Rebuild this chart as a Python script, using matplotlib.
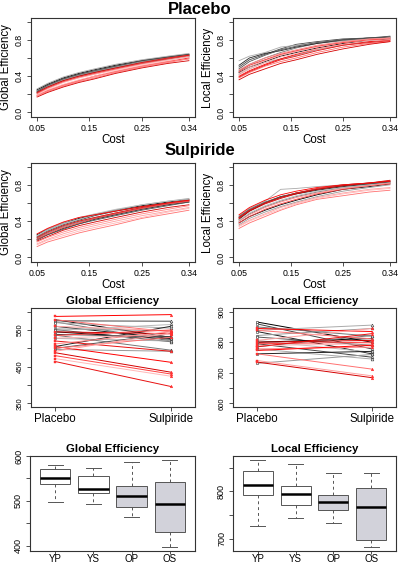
import matplotlib
matplotlib.use("Agg")
import matplotlib.pyplot as plt

plt.rcParams["font.family"] = ["Liberation Sans", "DejaVu Sans"]

W, H = 400, 566

# cost levels shared by the efficiency curves
cost = [0.05, 0.07, 0.10, 0.13, 0.16, 0.20, 0.25, 0.30, 0.34]

# placebo, global efficiency
plac_glob_young = [
    [.25, .31, .38, .43, .47, .52, .57, .61, .64],
    [.24, .30, .37, .42, .46, .51, .56, .60, .63],
    [.23, .29, .36, .41, .45, .50, .55, .59, .62],
    [.26, .32, .39, .44, .48, .53, .58, .62, .65],
    [.22, .28, .35, .40, .44, .49, .54, .59, .62],
    [.24, .29, .36, .41, .46, .50, .56, .60, .63],
    [.23, .30, .37, .42, .46, .51, .57, .61, .64],
    [.21, .27, .34, .39, .43, .48, .54, .58, .61],
]
plac_glob_old = [
    [.19, .24, .30, .35, .40, .45, .51, .56, .60],
    [.18, .23, .29, .34, .38, .44, .50, .55, .59],
    [.20, .26, .33, .38, .42, .47, .53, .58, .62],
    [.17, .22, .28, .33, .37, .43, .49, .54, .57],
    [.21, .27, .34, .39, .43, .48, .54, .59, .63],
    [.19, .25, .31, .36, .40, .46, .52, .57, .61],
    [.22, .28, .35, .40, .44, .49, .55, .60, .63],
    [.18, .24, .30, .35, .39, .45, .51, .56, .59],
]

# placebo, local efficiency
plac_loc_young = [
    [.44, .50, .56, .62, .66, .71, .76, .79, .81],
    [.50, .58, .64, .70, .75, .78, .81, .82, .84],
    [.46, .53, .60, .66, .71, .76, .79, .81, .82],
    [.57, .62, .66, .72, .74, .77, .80, .82, .83],
    [.52, .60, .65, .68, .72, .76, .80, .82, .83],
    [.42, .48, .55, .59, .63, .69, .74, .78, .80],
    [.48, .56, .63, .69, .73, .77, .80, .82, .83],
    [.45, .52, .58, .64, .68, .73, .78, .80, .82],
]
plac_loc_old = [
    [.40, .46, .53, .59, .64, .70, .75, .78, .80],
    [.38, .44, .51, .56, .60, .66, .72, .76, .78],
    [.43, .50, .57, .63, .67, .72, .77, .80, .82],
    [.36, .42, .48, .54, .58, .64, .70, .75, .78],
    [.45, .52, .58, .64, .68, .73, .77, .80, .81],
    [.41, .48, .55, .61, .65, .70, .75, .79, .80],
    [.39, .45, .52, .58, .62, .68, .74, .77, .79],
    [.47, .53, .60, .65, .69, .74, .78, .81, .82],
]

# sulpiride, global efficiency
sulp_glob_young = [
    [.25, .31, .38, .43, .47, .52, .57, .61, .64],
    [.23, .29, .36, .41, .46, .51, .56, .60, .63],
    [.21, .27, .34, .39, .43, .48, .54, .59, .62],
    [.24, .30, .37, .42, .47, .52, .58, .62, .65],
    [.20, .25, .32, .37, .42, .47, .53, .58, .61],
    [.22, .28, .35, .40, .44, .49, .55, .60, .63],
    [.19, .25, .31, .37, .41, .46, .52, .57, .61],
    [.24, .31, .38, .44, .48, .53, .58, .62, .64],
]
sulp_glob_old = [
    [.26, .32, .39, .44, .47, .51, .56, .60, .63],
    [.12, .17, .22, .27, .31, .36, .43, .48, .52],
    [.15, .20, .26, .31, .35, .40, .46, .51, .55],
    [.18, .23, .30, .35, .39, .44, .50, .55, .58],
    [.20, .26, .33, .38, .43, .48, .54, .59, .62],
    [.14, .19, .24, .29, .33, .38, .44, .50, .54],
    [.22, .28, .35, .40, .44, .49, .55, .60, .63],
    [.17, .22, .28, .33, .37, .42, .48, .53, .57],
]

# sulpiride, local efficiency
sulp_loc_young = [
    [.38, .45, .52, .58, .63, .69, .75, .78, .81],
    [.44, .52, .60, .66, .71, .75, .79, .81, .83],
    [.40, .48, .56, .62, .67, .72, .77, .80, .82],
    [.46, .54, .62, .75, .76, .78, .80, .82, .83],
    [.42, .51, .60, .67, .70, .74, .78, .81, .84],
    [.36, .43, .50, .56, .61, .67, .73, .77, .80],
    [.45, .53, .61, .67, .71, .75, .79, .81, .83],
    [.41, .49, .57, .63, .68, .73, .77, .80, .82],
]
sulp_loc_old = [
    [.47, .55, .63, .69, .73, .77, .80, .82, .84],
    [.32, .38, .45, .52, .58, .64, .68, .72, .74],
    [.35, .41, .48, .55, .60, .66, .71, .75, .77],
    [.43, .51, .59, .65, .70, .75, .79, .82, .85],
    [.38, .45, .53, .59, .64, .70, .75, .79, .81],
    [.34, .40, .47, .53, .59, .65, .70, .74, .76],
    [.44, .52, .60, .66, .71, .76, .80, .82, .84],
    [.40, .47, .55, .61, .66, .71, .76, .79, .82],
]

# per-subject mean efficiency, placebo -> sulpiride
glob_young_plac = [578, 575, 572, 570, 560, 553, 551, 549, 545, 538, 536, 527, 505, 497, 500]
glob_young_sulp = [530, 574, 520, 555, 527, 548, 518, 565, 525, 532, 495, 520, 560, 492, 540]
glob_old_plac = [587, 578, 560, 545, 535, 528, 520, 512, 505, 500, 492, 488, 480, 472, 464]
glob_old_sulp = [592, 545, 548, 540, 550, 538, 492, 545, 462, 530, 542, 435, 430, 424, 396]

loc_young_plac = [866, 860, 850, 839, 835, 822, 817, 806, 800, 795, 785, 778, 762, 731]
loc_young_sulp = [800, 778, 820, 856, 762, 845, 790, 767, 812, 751, 822, 745, 770, 760]
loc_old_plac = [845, 839, 806, 800, 795, 789, 785, 778, 773, 762, 740, 735]
loc_old_sulp = [835, 811, 845, 806, 800, 795, 828, 784, 790, 712, 690, 684]

# boxplot summaries: whisker low, Q1, median, Q3, whisker high
groups = ["YP", "YS", "OP", "OS"]
glob_box = [
    [497, 538, 551, 572, 579],
    [492, 518, 527, 555, 574],
    [464, 487, 511, 533, 587],
    [396, 431, 492, 542, 592],
]
loc_box = [
    [726, 792, 813, 843, 867],
    [743, 770, 794, 810, 857],
    [733, 761, 778, 793, 838],
    [681, 697, 767, 806, 838],
]
box_fill = ["white", "white", "#d2d2da", "#d2d2da"]

grey_shades = ["black", "#444444", "#777777", "#aaaaaa", "#222222", "#999999", "#555555", "#bbbbbb"]
red_shades = ["#ff0000", "#ff7070", "#ffa0a0", "#d40000", "#ff4040", "#ffb8b8", "#e81010", "#ff8888"]


def rect(x0, y0, x1, y1):
    return [x0 / W, 1 - y1 / H, (x1 - x0) / W, (y1 - y0) / H]


def r_style(ax, tick_size):
    for s in ax.spines.values():
        s.set_linewidth(0.8)
        s.set_color("#333333")
    ax.tick_params(direction="out", length=3, width=0.6, labelsize=tick_size,
                   color="#333333", pad=2)


def curve_panel(ax, young, old, ylabel):
    for i, c in enumerate(young):
        ax.plot(cost, c, color=grey_shades[i % len(grey_shades)], lw=0.6)
    for i, c in enumerate(old):
        ax.plot(cost, c, color=red_shades[i % len(red_shades)], lw=0.6)
    ax.set_xlim(0.05 - 0.0116, 0.34 + 0.0116)
    ax.set_ylim(-0.05, 1.04)
    ax.set_xticks([0.05, 0.15, 0.25, 0.34])
    ax.set_xticklabels(["0.05", "0.15", "0.25", "0.34"])
    ax.set_yticks([0, 0.2, 0.4, 0.6, 0.8, 1.0])
    ax.set_yticklabels(["0.0", "", "0.4", "", "0.8", ""], rotation=90, va="center")
    r_style(ax, 6.3)
    ax.set_xlabel("Cost", fontsize=8.3, labelpad=1)
    ax.set_ylabel(ylabel, fontsize=8.3, labelpad=2)


def slope_panel(ax, yp, ys, op, os_, ylim, ticks, title):
    for i, (a, b) in enumerate(zip(yp, ys)):
        ax.plot([1, 2], [a, b], color=grey_shades[i % len(grey_shades)], lw=0.7)
    for i, (a, b) in enumerate(zip(op, os_)):
        ax.plot([1, 2], [a, b], color=red_shades[i % len(red_shades)], lw=0.7)
    ax.plot([1] * len(yp), yp, "s", ms=1.8, mfc="white", mec="#333333", mew=0.4, ls="none")
    ax.plot([2] * len(ys), ys, "^", ms=2.0, mfc="white", mec="#333333", mew=0.4, ls="none")
    ax.plot([1] * len(op), op, "s", ms=1.6, mfc="#ff3030", mec="#ff3030", mew=0.3, ls="none")
    ax.plot([2] * len(os_), os_, "^", ms=1.9, mfc="#ff3030", mec="#ff3030", mew=0.3, ls="none")
    ax.set_xlim(0.79, 2.21)
    ax.set_ylim(*ylim)
    ax.set_xticks([1, 2])
    ax.set_xticklabels(["Placebo", "Sulpiride"], fontsize=8.3)
    ax.set_yticks(ticks)
    ax.set_yticklabels([str(t) if k % 2 == 0 else "" for k, t in enumerate(ticks)],
                       rotation=90, va="center")
    r_style(ax, 5.5)
    ax.tick_params(axis="x", labelsize=8.3, pad=1)
    ax.set_title(title, fontsize=8.2, fontweight="bold", pad=3)


def box_panel(ax, summary, ylim, ticks, labels, title):
    stats = []
    for g, (lo, q1, med, q3, hi) in zip(groups, summary):
        stats.append(dict(label=g, whislo=lo, q1=q1, med=med, q3=q3, whishi=hi, fliers=[]))
    bp = ax.bxp(stats, positions=range(1, 5), widths=0.8, patch_artist=True,
                showfliers=False, capwidths=0.4,
                boxprops=dict(edgecolor="#555555", linewidth=0.7),
                medianprops=dict(color="black", linewidth=1.8),
                whiskerprops=dict(color="#555555", linewidth=0.7, linestyle=(0, (3, 3))),
                capprops=dict(color="#555555", linewidth=0.7))
    for patch, fc in zip(bp["boxes"], box_fill):
        patch.set_facecolor(fc)
    ax.set_xlim(0.34, 4.66)
    ax.set_ylim(*ylim)
    ax.set_yticks(ticks)
    ax.set_yticklabels(labels, rotation=90, va="center")
    r_style(ax, 6.5)
    ax.tick_params(axis="x", labelsize=7, pad=0.5, length=2)
    ax.set_title(title, fontsize=8.2, fontweight="bold", pad=3)


fig = plt.figure(figsize=(W / 100, H / 100), dpi=100)

fig.text(0.5, 1 - 10 / H, "Placebo", ha="center", va="center", fontsize=12, fontweight="bold")
fig.text(0.5, 1 - 150 / H, "Sulpiride", ha="center", va="center", fontsize=12, fontweight="bold")

ax = fig.add_axes(rect(31, 18, 195, 117))
curve_panel(ax, plac_glob_young, plac_glob_old, "Global Efficiency")
ax = fig.add_axes(rect(233, 18, 396, 117))
curve_panel(ax, plac_loc_young, plac_loc_old, "Local Efficiency")
ax = fig.add_axes(rect(31, 163, 195, 262))
curve_panel(ax, sulp_glob_young, sulp_glob_old, "Global Efficiency")
ax = fig.add_axes(rect(233, 163, 396, 262))
curve_panel(ax, sulp_loc_young, sulp_loc_old, "Local Efficiency")

ax = fig.add_axes(rect(31, 308, 195, 407))
slope_panel(ax, glob_young_plac, glob_young_sulp, glob_old_plac, glob_old_sulp,
            (340, 610), [350, 400, 450, 500, 550, 600], "Global Efficiency")
ax = fig.add_axes(rect(233, 308, 396, 407))
slope_panel(ax, loc_young_plac, loc_young_sulp, loc_old_plac, loc_old_sulp,
            (588, 912), [600, 650, 700, 750, 800, 850, 900], "Local Efficiency")

ax = fig.add_axes(rect(30, 456, 195, 551))
box_panel(ax, glob_box, (388, 600), [400, 450, 500, 550, 600],
          ["400", "", "500", "", "600"], "Global Efficiency")
ax = fig.add_axes(rect(233, 456, 396, 551))
box_panel(ax, loc_box, (673.6, 874.4), [700, 750, 800, 850],
          ["700", "", "800", ""], "Local Efficiency")

fig.savefig("out.png", dpi=100)
